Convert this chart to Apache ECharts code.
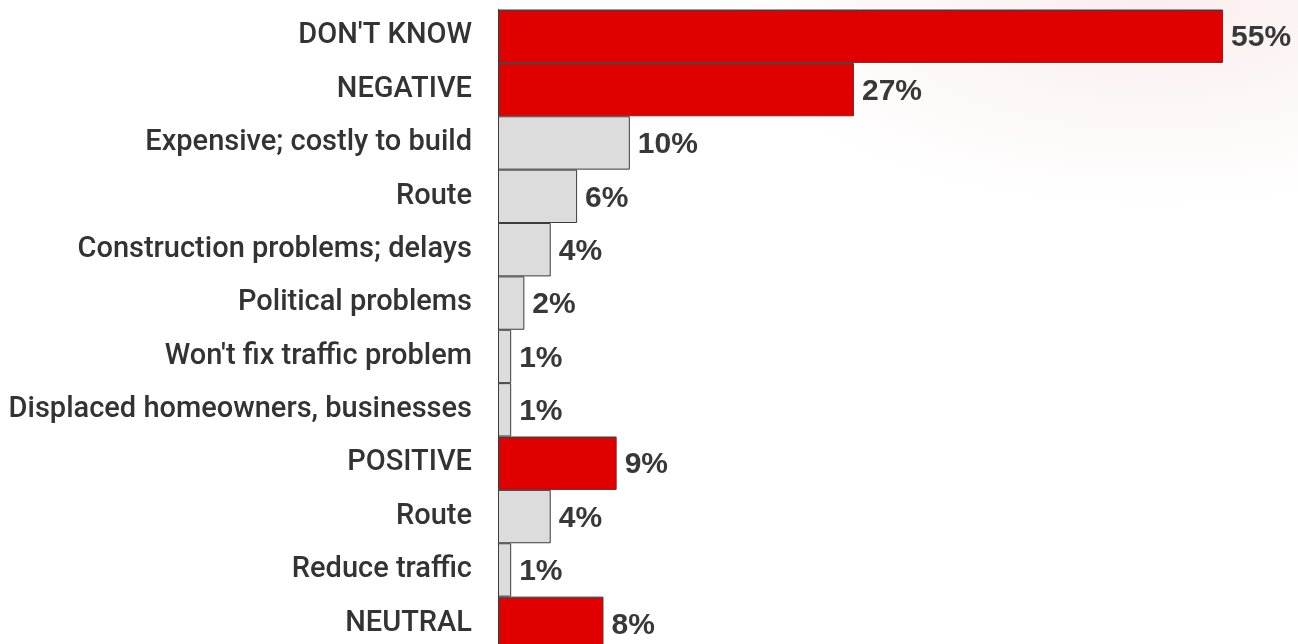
<!DOCTYPE html>
<html>
<head>
<meta charset="utf-8">
<title>Reasons - horizontal bars</title>
<script src="https://cdn.jsdelivr.net/npm/echarts@6/dist/echarts.min.js"></script>
<style>
  html, body {
    margin: 0;
    padding: 0;
    background: #ffffff;
  }
  #chart {
    width: 1298px;
    height: 644px;
    background:
      radial-gradient(ellipse 440px 210px at 1150px 0px, rgba(225, 140, 140, 0.15), rgba(255, 255, 255, 0) 100%),
      #ffffff;
  }
</style>
</head>
<body>
<div id="chart"></div>
<script>
// 类别（从上到下）
const categories = [
  "DON'T KNOW",
  "NEGATIVE",
  "Expensive; costly to build",
  "Route",
  "Construction problems; delays",
  "Political problems",
  "Won't fix traffic problem",
  "Displaced homeowners, businesses",
  "POSITIVE",
  "Route",
  "Reduce traffic",
  "NEUTRAL",
];

// 百分比
const percents = [55, 27, 10, 6, 4, 2, 1, 1, 9, 4, 1, 8];

// 汇总行 (true) 用红色，明细行用灰色
const isSummary = [true, true, false, false, false, false, false, false, true, false, false, true];

const summaryColor = "#e00000";
const detailColor = "#dcdcdc";

const chart = echarts.init(document.getElementById("chart"));

const options = {
  animation: false,
  grid: {
    top: 9.5,
    left: 498,
    width: 791,
    height: 640.5,
    containLabel: false,
    outerBoundsMode: "none",
  },
  xAxis: {
    type: "value",
    min: 0,
    max: 60,
    show: false,
  },
  yAxis: {
    type: "category",
    inverse: true,
    data: categories,
    axisLine: {
      show: true,
      lineStyle: {
        color: "#3c3c3c",
        width: 1,
      },
    },
    axisTick: {
      show: false,
    },
    axisLabel: {
      margin: 26,
      color: "#333333",
      fontFamily: "Roboto, 'Liberation Sans', sans-serif",
      fontWeight: 500,
      fontSize: 29,
    },
  },
  series: [
    {
      type: "bar",
      barCategoryGap: "0%",
      data: percents.map((value, index) => ({
        value: value,
        itemStyle: {
          color: isSummary[index] ? summaryColor : detailColor,
        },
      })),
      itemStyle: {
        borderColor: "#3c3c3c",
        borderWidth: 1,
      },
      label: {
        show: true,
        position: "right",
        distance: 8,
        offset: [0, 2],
        formatter: "{c}%",
        color: "#383838",
        fontFamily: "'Liberation Sans', Arial, sans-serif",
        fontWeight: "bold",
        fontSize: 30,
      },
    },
  ],
};

chart.setOption(options);
</script>
</body>
</html>
